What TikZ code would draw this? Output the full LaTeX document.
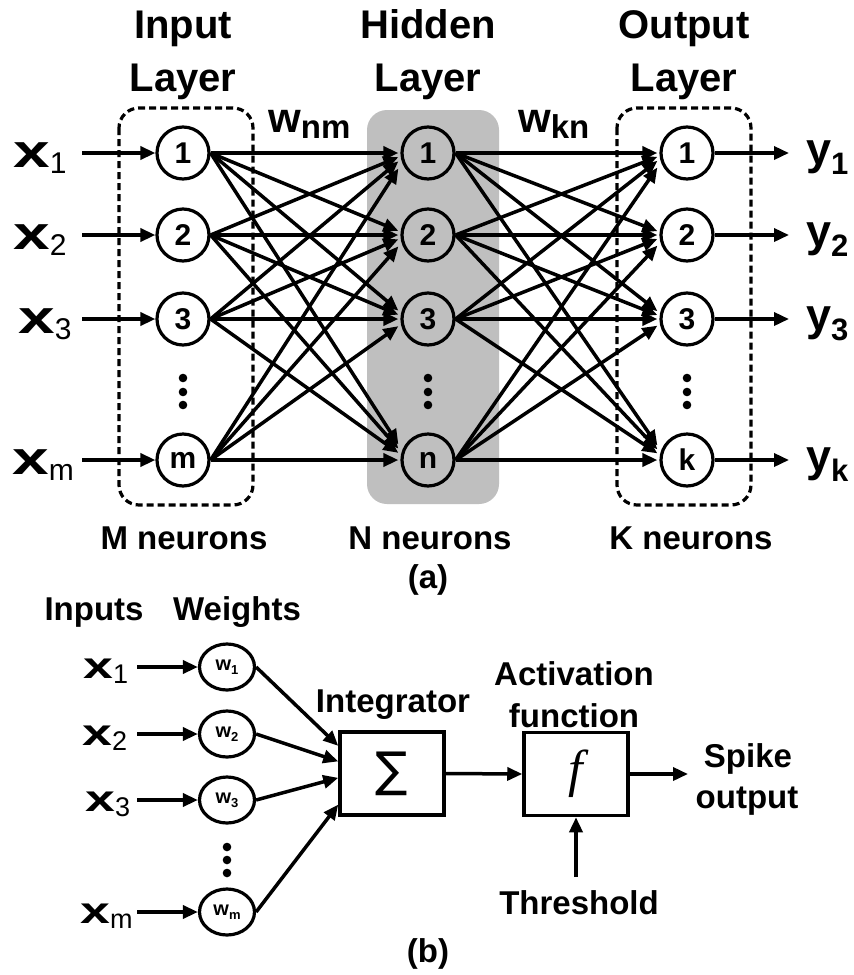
\documentclass[tikz,border=0pt]{standalone}
\usepackage{fontspec}
\setmainfont{Liberation Sans}
\newfontfamily\symfont{DejaVu Sans}
\newfontfamily\seriffont{Liberation Serif}
\usepackage{graphicx}
\usetikzlibrary{arrows.meta,calc,shapes.geometric}
\newcommand\myfs[1]{\fontsize{#1}{#1}\selectfont}
\newcommand\bigxlab[1]{\scalebox{1.4}[1]{\myfs{47}x}\raisebox{-6pt}{\myfs{30}\mdseries #1}}
\newcommand\smallxlab[1]{\scalebox{1.45}[1]{\myfs{37}x}\raisebox{-5pt}{\myfs{27}\mdseries #1}}
\newcommand\ylab[1]{\myfs{45}y\raisebox{-10pt}{\myfs{31}#1}}
\newcommand\wlab[1]{\myfs{20}w\raisebox{-4pt}{\myfs{13}#1}}
\newcommand\linkto[2]{\draw[conn] let \p1=(#1.east), \p2=($(#2.west)+(8,0)$), \n1={veclen(\x2-\x1,\y2-\y1)*((\x2-\x1-10)/(\x2-\x1))} in (\p1) -- ($(\p1)!\n1!(\p2)$);}
\definecolor{hidgray}{RGB}{191,191,191}
\tikzset{
  neuron/.style={circle,draw,line width=3.2pt,minimum size=52pt,inner sep=0pt,font=\myfs{30}\bfseries},
  wnode/.style={ellipse,draw,line width=3.2pt,minimum width=55pt,minimum height=46pt,inner sep=0pt,font=\bfseries},
  conn/.style={line width=3.5pt,-{Triangle[length=15pt,width=13pt]}},
  dbox/.style={line width=3.2pt,dash pattern=on 7pt off 4pt,rounded corners=20pt},
  title/.style={inner sep=0pt,anchor=base,font=\myfs{40}\bfseries},
  lbl/.style={inner sep=0pt,anchor=base,font=\myfs{33}\bfseries},
  sym/.style={inner sep=0pt,anchor=base west,font=\bfseries},
  blockbox/.style={draw,line width=3.5pt,minimum width=104pt,minimum height=83pt,inner sep=0pt}
}
\begin{document}
\begin{tikzpicture}[x=1pt,y=-1pt]
\useasboundingbox (0,0) rectangle (854,975);
\fill[white] (0,0) rectangle (854,975);
% ---------- (a) ----------
\fill[hidgray,rounded corners=20pt] (367,110) rectangle (499,504);
\draw[dbox] (119,108) rectangle (253,505);
\draw[dbox] (617,108) rectangle (751,505);

\node[title] (tin1) at (183,38) {Input};
\node[title] (tin2) at (183,91) {Layer};
\node[title] (thd1) at (428,38) {Hidden};
\node[title] (thd2) at (428,91) {Layer};
\node[title] (tou1) at (684,38) {Output};
\node[title] (tou2) at (684,91) {Layer};

\node[sym] (wnm) at (268,132) {\myfs{42}w\raisebox{-6pt}{\myfs{33}nm}};
\node[sym] (wkn) at (518,132) {\myfs{42}w\raisebox{-6pt}{\myfs{33}kn}};

\foreach \n/\y in {1/153,2/235,3/319,m/460} {
  \node[neuron] (i\n) at (183,\y) {\n};
}
\foreach \n/\y in {1/153,2/235,3/319,n/460} {
  \node[neuron] (h\n) at (428,\y) {\n};
}
\foreach \n/\y in {1/153,2/235,3/319,k/460} {
  \node[neuron] (o\n) at (687,\y) {\n};
}
\foreach \x in {183,428,687} {
  \foreach \y in {378,392,405} { \fill (\x,\y) circle (4.3pt); }
}

% input labels and arrows
\foreach \n/\y/\lx in {1/153/13,2/235/13,3/319/18,m/460/12} {
  \node[sym] (xl\n) at (\lx,\y+14) {\bigxlab{\n}};
  \coordinate (xs\n) at (82,\y);
  \draw[conn] (xs\n) -- (i\n.west);
}
% output labels and arrows
\foreach \n/\y in {1/153,2/235,3/319,k/460} {
  \coordinate (ye\n) at (789,\y);
  \draw[conn] (o\n.east) -- (ye\n);
  \node[sym] (yl\n) at (806,\y+11) {\ylab{\n}};
}

% full connections
\foreach \s in {i1,i2,i3,im} {
  \foreach \t in {h1,h2,h3,hn} { \linkto{\s}{\t} }
}
\foreach \s in {h1,h2,h3,hn} {
  \foreach \t in {o1,o2,o3,ok} { \linkto{\s}{\t} }
}

\node[lbl] (mneu) at (184,549) {M neurons};
\node[lbl] (nneu) at (430,549) {N neurons};
\node[lbl] (kneu) at (691,549) {K neurons};
\node[lbl] (capa) at (428,588) {(a)};

% ---------- (b) ----------
\node[lbl] (inputs) at (94,620) {Inputs};
\node[lbl] (weights) at (237,620) {Weights};

\foreach \n/\y/\lx in {1/667/83,2/734/82,3/800/85,m/912/80} {
  \node[wnode] (w\n) at (227,\y) {\wlab{\n}};
  \node[sym] (bxl\n) at (\lx,\y+11) {\smallxlab{\n}};
  \coordinate (bxs\n) at (137,\y);
  \draw[conn] (bxs\n) -- (w\n.west);
}
\foreach \y in {847,860,873} { \fill (227,\y) circle (4.3pt); }

\node[blockbox] (sum) at (392,773.5) {\symfont\myfs{48}∑};
\node[blockbox] (fbox) at (576,774) {\seriffont\itshape\myfs{52}f};

\node[lbl] (integ) at (393,712) {Integrator};
\node[lbl] (act1) at (574,685) {Activation};
\node[lbl] (act2) at (574,727) {function};
\node[lbl] (spk1) at (748,767) {Spike};
\node[lbl] (spk2) at (747,808) {output};
\node[lbl] (thr) at (579,914) {Threshold};
\node[lbl] (capb) at (428,962) {(b)};

\coordinate (s1) at ($(sum.north west)!0.18!(sum.south west)$);
\coordinate (s2) at ($(sum.north west)!0.36!(sum.south west)$);
\coordinate (s3) at ($(sum.north west)!0.55!(sum.south west)$);
\coordinate (sm) at ($(sum.north west)!0.86!(sum.south west)$);
\draw[conn] (w1.east) -- (s1);
\draw[conn] (w2.east) -- (s2);
\draw[conn] (w3.east) -- (s3);
\draw[conn] (wm.east) -- (sm);

\draw[conn] (sum.east) -- (fbox.west);
\coordinate (spkend) at (688,774);
\draw[conn] (fbox.east) -- (spkend);
\coordinate (thrstart) at (576,877);
\draw[conn] (thrstart) -- (fbox.south);
\end{tikzpicture}
\end{document}
